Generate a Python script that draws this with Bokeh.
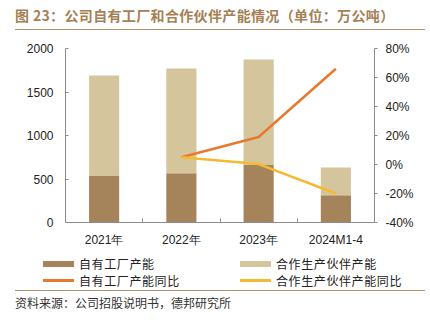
import numpy as np
from bokeh.plotting import figure
from bokeh.models import (Range1d, LinearAxis, FixedTicker, ColumnDataSource,
                          PrintfTickFormatter, Div)
from bokeh.layouts import column
from bokeh.embed import file_html
from bokeh.resources import INLINE

# ---- data ----
categories = ["2021年", "2022年", "2023年", "2024M1-4"]
own_capacity = [540, 567, 667, 314]          # 自有工厂产能 (万公吨)
partner_capacity = [1150, 1203, 1206, 318]   # 合作生产伙伴产能 (万公吨)
own_yoy = [None, 5.0, 19.0, 66.0]            # 自有工厂产能同比 (%)
partner_yoy = [None, 5.0, 0.3, -20.0]        # 合作生产伙伴产能同比 (%)
left_ticks = [0, 500, 1000, 1500, 2000]
right_ticks = [-40, -20, 0, 20, 40, 60, 80]
series_names = ["自有工厂产能", "合作生产伙伴产能", "自有工厂产能同比", "合作生产伙伴产能同比"]
title_text = "图 23：公司自有工厂和合作伙伴产能情况（单位：万公吨）"
source_text = "资料来源：公司招股说明书，德邦研究所"

# ---- style ----
C_OWN = "#A6845B"
C_PARTNER = "#D5C59D"
C_OWN_LINE = "#E8792E"
C_PARTNER_LINE = "#F6B932"
C_AXIS = "#8C8C8C"
C_BROWN = "#A57F55"
C_RULE = "#B8926A"
CJK = "Noto Sans CJK SC"
LAT = "Liberation Sans"

xs = list(range(len(categories)))
src = ColumnDataSource(dict(
    x=xs,
    own=own_capacity,
    total=[a + b for a, b in zip(own_capacity, partner_capacity)],
    own_yoy=np.array(own_yoy, dtype=float),
    partner_yoy=np.array(partner_yoy, dtype=float),
))

# ---- header ----
header = Div(
    text=(f'<div style="margin-left:15px;width:410px;height:30px;line-height:31px;'
          f'border-bottom:1.5px solid {C_RULE};font-family:\'{CJK}\';font-weight:bold;'
          f'font-size:14px;letter-spacing:0.35px;color:{C_BROWN};white-space:nowrap;">'
          f'{title_text}</div>'),
    width=430, height=35, margin=0)

# ---- main chart ----
p = figure(width=430, height=215, x_range=Range1d(-0.5, 3.5), y_range=Range1d(0, 2000),
           output_backend="svg", toolbar_location=None,
           min_border_left=65, min_border_right=56, min_border_top=13, min_border_bottom=28)
p.extra_y_ranges = {"pct": Range1d(-40, 80)}
p.outline_line_color = None
p.xgrid.visible = False
p.ygrid.visible = False

p.vbar(x="x", width=0.39, bottom=0, top="own", source=src,
       fill_color=C_OWN, line_color=None)
p.vbar(x="x", width=0.39, bottom="own", top="total", source=src,
       fill_color=C_PARTNER, line_color=None)
p.line(x="x", y="own_yoy", source=src, y_range_name="pct",
       line_color=C_OWN_LINE, line_width=2.5)
p.line(x="x", y="partner_yoy", source=src, y_range_name="pct",
       line_color=C_PARTNER_LINE, line_width=2.5)

xa = p.xaxis[0]
xa.ticker = FixedTicker(ticks=xs, minor_ticks=[0.5, 1.5, 2.5])
xa.major_label_overrides = {i: c for i, c in enumerate(categories)}
xa.major_tick_line_color = None
xa.major_tick_in = 0
xa.major_tick_out = 0
xa.minor_tick_in = 4
xa.minor_tick_out = 0
xa.minor_tick_line_color = C_AXIS
xa.axis_line_color = C_AXIS
xa.major_label_standoff = 10
xa.major_label_text_font = LAT
xa.major_label_text_font_size = "12px"
xa.major_label_text_color = "#222222"

ya = p.yaxis[0]
ya.ticker = FixedTicker(ticks=left_ticks)
ya.major_tick_in = 3
ya.major_tick_out = 0
ya.minor_tick_line_color = None
ya.axis_line_color = C_AXIS
ya.major_tick_line_color = C_AXIS
ya.major_label_standoff = 12
ya.major_label_text_font = LAT
ya.major_label_text_font_size = "12px"
ya.major_label_text_color = "#222222"

ra = LinearAxis(y_range_name="pct", ticker=FixedTicker(ticks=right_ticks),
                formatter=PrintfTickFormatter(format="%d%%"))
ra.major_tick_in = 0
ra.major_tick_out = 3
ra.minor_tick_line_color = None
ra.axis_line_color = C_AXIS
ra.major_tick_line_color = C_AXIS
ra.major_label_standoff = 8
ra.major_label_text_font = LAT
ra.major_label_text_font_size = "12px"
ra.major_label_text_color = "#222222"
p.add_layout(ra, "right")

# ---- legend (HTML) ----
swatches = [(C_OWN, 6), (C_PARTNER, 6), (C_OWN_LINE, 2.5), (C_PARTNER_LINE, 2.5)]


def legend_item(name, color, h):
    return (f'<div style="width:197px;display:flex;align-items:center;">'
            f'<span style="display:inline-block;width:31px;height:{h}px;background:{color};"></span>'
            f'<span style="margin-left:5px;font-family:\'{CJK}\';font-size:12px;'
            f'letter-spacing:0.6px;color:#222222;white-space:nowrap;">{name}</span></div>')


rows_html = ""
for r in range(2):
    items = "".join(legend_item(series_names[r * 2 + c], *swatches[r * 2 + c]) for c in range(2))
    rows_html += f'<div style="height:17px;display:flex;align-items:center;">{items}</div>'

legend_div = Div(
    text=f'<div style="padding-top:5px;margin-left:43px;">{rows_html}</div>',
    width=430, height=40, margin=0)

# ---- footer ----
footer = Div(
    text=(f'<div style="margin-left:15px;width:410px;border-top:1.5px solid {C_RULE};'
          f'padding-top:3px;line-height:18px;font-family:\'{CJK}\';font-size:12px;'
          f'color:#333333;white-space:nowrap;">{source_text}</div>'),
    width=430, height=32, margin=0)

layout = column(header, p, legend_div, footer, spacing=0)
open("out.html", "w").write(file_html(layout, INLINE))
